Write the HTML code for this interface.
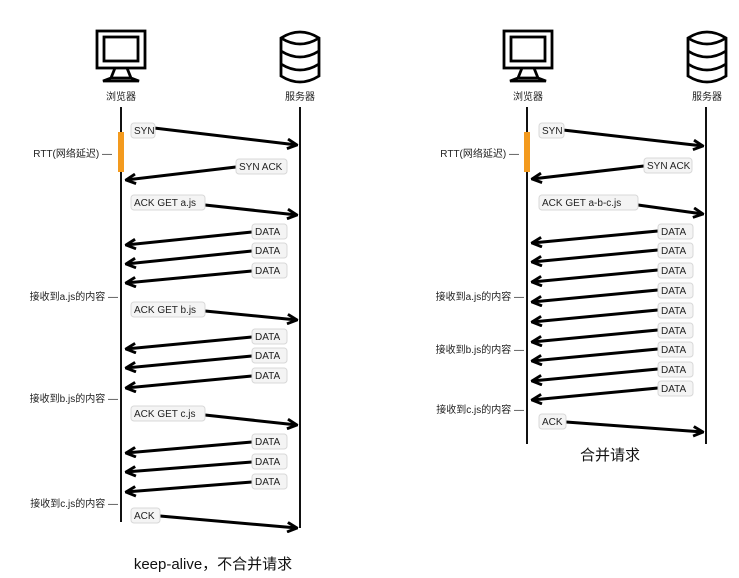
<!DOCTYPE html>
<html><head><meta charset="utf-8"><style>
body{margin:0;background:#fff}
svg{display:block}
text{font-family:"Liberation Sans","Noto Sans CJK SC",sans-serif;fill:#222}
.l{font-size:10px}
.b rect{fill:#f4f4f4;stroke:#d8d8d8;stroke-width:1}
.a{stroke:#000;stroke-width:3;fill:none;marker-end:url(#h)}
.v{stroke:#111;stroke-width:2}
.i{stroke:#000;stroke-width:2.8;fill:none}
</style></head><body>
<svg width="739" height="578" viewBox="0 0 739 578" xmlns="http://www.w3.org/2000/svg">
<defs><marker id="h" viewBox="0 0 10 10" refX="9" refY="5" markerWidth="4" markerHeight="4" orient="auto" markerUnits="strokeWidth"><path d="M1,1 L9,5 L1,9" fill="none" stroke="#000" stroke-width="2.4"/></marker></defs>

<g class="i">
<rect x="97" y="31" width="48" height="37"/><rect x="104" y="37" width="34" height="24"/>
<path d="M115,68 L111,78 M127,68 L131,78 M103,81 L139,81 L131,78 L111,78 Z"/>
<path d="M281,38 Q300,26 319,38 L319,76 Q300,88 281,76 Z M281,38 Q300,50 319,38 M281,51 Q300,63 319,51 M281,64 Q300,76 319,64"/>
</g>
<text x="121" y="100" text-anchor="middle" style="font-size:10px">浏览器</text>
<text x="300" y="100" text-anchor="middle" style="font-size:10px">服务器</text>
<g class="i" transform="translate(407,0)">
<rect x="97" y="31" width="48" height="37"/><rect x="104" y="37" width="34" height="24"/>
<path d="M115,68 L111,78 M127,68 L131,78 M103,81 L139,81 L131,78 L111,78 Z"/>
</g>
<g class="i" transform="translate(407,0)">
<path d="M281,38 Q300,26 319,38 L319,76 Q300,88 281,76 Z M281,38 Q300,50 319,38 M281,51 Q300,63 319,51 M281,64 Q300,76 319,64"/>
</g>
<text x="528" y="100" text-anchor="middle" style="font-size:10px">浏览器</text>
<text x="707" y="100" text-anchor="middle" style="font-size:10px">服务器</text>

<line class="v" x1="121" y1="107" x2="121" y2="522"/>
<line class="v" x1="300" y1="107" x2="300" y2="528"/>
<line class="v" x1="527" y1="107" x2="527" y2="444"/>
<line class="v" x1="706" y1="107" x2="706" y2="444"/>
<rect x="118" y="132" width="6" height="40" fill="#f39a1e"/>
<rect x="524" y="132" width="6" height="40" fill="#f39a1e"/>

<g class="l" text-anchor="end">
<text x="112" y="157">RTT(网络延迟) —</text>
<text x="118" y="300">接收到a.js的内容 —</text>
<text x="118" y="402">接收到b.js的内容 —</text>
<text x="118" y="507">接收到c.js的内容 —</text>
<text x="519" y="157">RTT(网络延迟) —</text>
<text x="524" y="300">接收到a.js的内容 —</text>
<text x="524" y="353">接收到b.js的内容 —</text>
<text x="524" y="413">接收到c.js的内容 —</text>
</g>

<path class="a" d="M154,128 L297,145"/>
<path class="a" d="M236,167 L126,180"/>
<path class="a" d="M205,205 L297,215"/>
<path class="a" d="M252,232 L126,245"/><path class="a" d="M252,251 L126,264"/><path class="a" d="M252,271 L126,283"/>
<path class="a" d="M205,311 L297,320"/>
<path class="a" d="M252,337 L126,349"/><path class="a" d="M252,356 L126,368"/><path class="a" d="M252,376 L126,388"/>
<path class="a" d="M205,415 L297,425"/>
<path class="a" d="M252,442 L126,453"/><path class="a" d="M252,462 L126,472"/><path class="a" d="M252,482 L126,492"/>
<path class="a" d="M160,516 L297,528"/>

<path class="a" d="M563,130 L703,146"/>
<path class="a" d="M644,166 L532,179"/>
<path class="a" d="M638,205 L703,214"/>
<path class="a" d="M658,231 L532,243"/><path class="a" d="M658,250 L532,262"/><path class="a" d="M658,270 L532,282"/>
<path class="a" d="M658,290 L532,302"/><path class="a" d="M658,310 L532,322"/><path class="a" d="M658,330 L532,342"/>
<path class="a" d="M658,349 L532,361"/><path class="a" d="M658,369 L532,381"/><path class="a" d="M658,388 L532,400"/>
<path class="a" d="M566,422 L703,432"/>

<g class="b l">
<rect x="131" y="123" width="24" height="15" rx="3"/><text x="134" y="134">SYN</text>
<rect x="236" y="159" width="51" height="15" rx="3"/><text x="239" y="170">SYN ACK</text>
<rect x="131" y="195" width="74" height="15" rx="3"/><text x="134" y="206">ACK GET a.js</text>
<rect x="252" y="224" width="35" height="15" rx="3"/><text x="255" y="235">DATA</text>
<rect x="252" y="243" width="35" height="15" rx="3"/><text x="255" y="254">DATA</text>
<rect x="252" y="263" width="35" height="15" rx="3"/><text x="255" y="274">DATA</text>
<rect x="131" y="302" width="74" height="15" rx="3"/><text x="134" y="313">ACK GET b.js</text>
<rect x="252" y="329" width="35" height="15" rx="3"/><text x="255" y="340">DATA</text>
<rect x="252" y="348" width="35" height="15" rx="3"/><text x="255" y="359">DATA</text>
<rect x="252" y="368" width="35" height="15" rx="3"/><text x="255" y="379">DATA</text>
<rect x="131" y="406" width="74" height="15" rx="3"/><text x="134" y="417">ACK GET c.js</text>
<rect x="252" y="434" width="35" height="15" rx="3"/><text x="255" y="445">DATA</text>
<rect x="252" y="454" width="35" height="15" rx="3"/><text x="255" y="465">DATA</text>
<rect x="252" y="474" width="35" height="15" rx="3"/><text x="255" y="485">DATA</text>
<rect x="131" y="508" width="29" height="15" rx="3"/><text x="134" y="519">ACK</text>

<rect x="539" y="123" width="25" height="15" rx="3"/><text x="542" y="134">SYN</text>
<rect x="644" y="158" width="48" height="15" rx="3"/><text x="647" y="169">SYN ACK</text>
<rect x="539" y="195" width="99" height="15" rx="3"/><text x="542" y="206">ACK GET a-b-c.js</text>
<rect x="658" y="224" width="35" height="15" rx="3"/><text x="661" y="235">DATA</text>
<rect x="658" y="243" width="35" height="15" rx="3"/><text x="661" y="254">DATA</text>
<rect x="658" y="263" width="35" height="15" rx="3"/><text x="661" y="274">DATA</text>
<rect x="658" y="283" width="35" height="15" rx="3"/><text x="661" y="294">DATA</text>
<rect x="658" y="303" width="35" height="15" rx="3"/><text x="661" y="314">DATA</text>
<rect x="658" y="323" width="35" height="15" rx="3"/><text x="661" y="334">DATA</text>
<rect x="658" y="342" width="35" height="15" rx="3"/><text x="661" y="353">DATA</text>
<rect x="658" y="362" width="35" height="15" rx="3"/><text x="661" y="373">DATA</text>
<rect x="658" y="381" width="35" height="15" rx="3"/><text x="661" y="392">DATA</text>
<rect x="539" y="414" width="27" height="15" rx="3"/><text x="542" y="425">ACK</text>
</g>

<text x="213" y="569" text-anchor="middle" style="font-size:15px;fill:#111">keep-alive，不合并请求</text>
<text x="610" y="460" text-anchor="middle" style="font-size:15px;fill:#111">合并请求</text>
</svg>
</body></html>
